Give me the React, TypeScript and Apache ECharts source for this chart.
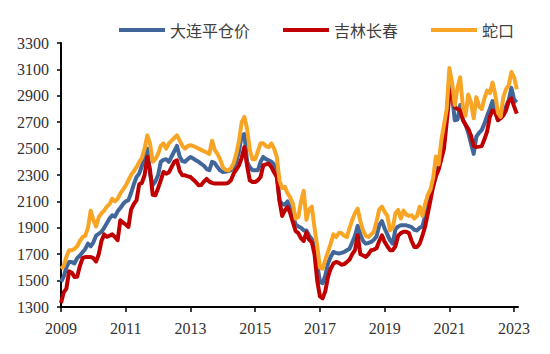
import React, { useEffect, useRef } from 'react';
import * as echarts from 'echarts';

const startYear = 2009;
const yearTicks = [2009, 2011, 2013, 2015, 2017, 2019, 2021, 2023];
const seriesNames = ['大连平仓价', '吉林长春', '蛇口'];
const seriesColors = ['#41679A', '#C00000', '#F8A526'];

// monthly values, Jan 2009 .. Feb 2023
const dalian = [
  1490, 1530, 1600, 1640, 1640, 1630, 1670, 1690, 1715, 1740, 1780, 1760,
  1790, 1840, 1855, 1870, 1900, 1935, 1970, 1995, 1985, 2025, 2050, 2080,
  2100, 2110, 2165, 2230, 2285, 2310, 2370, 2424, 2500, 2310, 2225, 2250,
  2300, 2400, 2415, 2420, 2400, 2440, 2480, 2520, 2440, 2405, 2400, 2420,
  2437, 2425, 2412, 2400, 2385, 2370, 2345, 2336, 2400, 2390, 2360, 2335,
  2323, 2325, 2330, 2336, 2355, 2400, 2480, 2600, 2610, 2400, 2360, 2336,
  2336, 2336, 2400, 2437, 2420, 2411, 2400, 2380, 2320, 2110, 2080, 2075,
  2100, 2050, 1990, 1925, 1910, 1900, 1880, 1880, 1840, 1815, 1760, 1620,
  1490, 1480, 1540, 1630, 1680, 1717, 1710, 1705, 1710, 1717, 1730, 1742,
  1790, 1840, 1915, 1850, 1800, 1780, 1785, 1793, 1810, 1835, 1920, 1950,
  1895, 1850, 1805, 1780, 1890, 1910, 1919, 1919, 1919, 1912, 1905, 1885,
  1880, 1900, 1910, 1990, 2080, 2150, 2210, 2300, 2370, 2470, 2600, 2765,
  2990, 2900, 2715, 2720, 2830, 2715, 2680, 2620, 2540, 2460, 2590, 2620,
  2640, 2690, 2750, 2800, 2860, 2790, 2715, 2735, 2770, 2820, 2866, 2960,
  2870, 2850,
];

const jilin = [
  1330, 1410, 1440, 1570, 1560, 1528, 1530, 1610, 1670, 1679, 1679, 1679,
  1670, 1645, 1700, 1800, 1850, 1832, 1840, 1850, 1830, 1806, 1957, 1940,
  1925, 1907, 2040, 2080, 2108, 2230, 2240, 2300, 2437, 2340, 2150, 2146,
  2200, 2260, 2323, 2310, 2320, 2360, 2400, 2411, 2330, 2298, 2298, 2290,
  2285, 2265, 2247, 2222, 2225, 2250, 2270, 2250, 2240, 2235, 2235, 2235,
  2235, 2235, 2240, 2260, 2310, 2340, 2374, 2430, 2512, 2370, 2260, 2247,
  2247, 2260, 2285, 2374, 2380, 2386, 2360, 2320, 2285, 2108, 1990, 2032,
  2057, 2010, 1940, 1875, 1860, 1820, 1800, 1865, 1810, 1790, 1700, 1500,
  1380, 1366, 1420, 1528, 1590, 1629, 1641, 1635, 1620, 1625, 1641, 1660,
  1700, 1730, 1843, 1700, 1690, 1680, 1700, 1730, 1735, 1745, 1800, 1843,
  1793, 1760, 1730, 1730, 1760, 1840, 1860, 1870, 1870, 1860, 1800, 1755,
  1755, 1780, 1840, 1910, 2010, 2110, 2220, 2290, 2340, 2420, 2500, 2700,
  2900, 2950, 2815, 2800, 2790, 2720, 2680, 2650, 2600, 2520, 2512, 2515,
  2520, 2570, 2630, 2740, 2790, 2775, 2715, 2730, 2750, 2790, 2860, 2880,
  2820, 2765,
];

const shekou = [
  1590, 1610, 1680, 1730, 1730, 1740, 1760, 1800, 1830, 1840, 1900, 2030,
  1960, 1910, 1980, 2010, 2030, 2060, 2080, 2120, 2100, 2120, 2160, 2190,
  2220, 2260, 2300, 2330, 2360, 2400, 2430, 2500, 2600, 2540, 2400, 2420,
  2460, 2520, 2540, 2500, 2540, 2560, 2580, 2600, 2560, 2520, 2500, 2520,
  2525, 2520, 2510, 2500, 2490, 2480, 2470, 2460, 2560, 2490, 2460, 2420,
  2360, 2340, 2335, 2350, 2390, 2460, 2560, 2700, 2740, 2650, 2490, 2420,
  2420, 2480, 2540, 2540, 2520, 2510, 2540, 2500, 2440, 2260, 2200, 2210,
  2160, 2130, 2080, 1970, 1980, 2100, 2180, 1960, 2040, 2060, 1900, 1760,
  1600, 1590, 1660, 1720, 1780, 1850, 1830, 1860, 1860, 1840, 1830, 1900,
  1960, 2010, 2045, 1950, 1880, 1840, 1830, 1850, 1870, 1950, 2040, 2060,
  2020, 1990, 1880, 1900, 2010, 2035, 1970, 2030, 2000, 1990, 1995, 1970,
  1990, 2060, 1990, 2080, 2150, 2190, 2280, 2440, 2380, 2560, 2680, 2800,
  3110, 3000, 2830, 2960, 3040, 2820, 2750, 2910, 2850, 2730, 2890, 2820,
  2800, 2880, 2940, 2920, 3000, 2910, 2770, 2740, 2890, 2950, 2980, 3080,
  3040, 2950,
];

const allSeries = [dalian, jilin, shekou];

export default function App() {
  const ref = useRef<HTMLDivElement>(null);

  useEffect(() => {
    if (!ref.current) return;
    const chart = echarts.init(ref.current, undefined, { renderer: 'svg' });
    const serif = 'Liberation Serif';
    chart.setOption({
      animation: false,
      backgroundColor: '#ffffff',
      grid: { left: 61, right: 32, top: 43, bottom: 47 },
      legend: {
        top: 22,
        left: 119,
        padding: 0,
        icon: 'rect',
        itemWidth: 46,
        itemHeight: 4,
        itemGap: 33,
        data: seriesNames,
        textStyle: {
          fontFamily: 'Noto Sans CJK SC',
          fontSize: 16,
          color: '#404040',
        },
      },
      xAxis: {
        type: 'value',
        min: startYear,
        max: 2023.12,
        splitLine: { show: false },
        axisLine: { show: true, lineStyle: { color: '#000', width: 2 } },
        axisTick: {
          show: true,
          customValues: yearTicks,
          length: 5,
          lineStyle: { color: '#000', width: 1.5 },
        },
        axisLabel: {
          customValues: yearTicks,
          margin: 13,
          fontFamily: serif,
          fontSize: 16,
          color: '#333',
          formatter: (v: number) => String(Math.round(v)),
        },
      },
      yAxis: {
        type: 'value',
        min: 1300,
        max: 3300,
        interval: 200,
        splitLine: { show: false },
        axisLine: { show: true, lineStyle: { color: '#000', width: 2 } },
        axisTick: { show: true, length: 4, lineStyle: { color: '#000', width: 1.5 } },
        axisLabel: {
          margin: 12,
          fontFamily: serif,
          fontSize: 16,
          color: '#333',
          formatter: (v: number) => String(v),
        },
      },
      series: allSeries.map((arr, si) => ({
        name: seriesNames[si],
        type: 'line',
        showSymbol: false,
        symbol: 'none',
        color: seriesColors[si],
        lineStyle: { width: 4, color: seriesColors[si], join: 'round' },
        data: arr.map((v, i) => [startYear + i / 12, v]),
      })),
    });
    return () => chart.dispose();
  }, []);

  return (
    <div
      ref={ref}
      style={{ position: 'fixed', left: 0, top: 0, width: 550, height: 354, background: '#fff' }}
    />
  );
}
